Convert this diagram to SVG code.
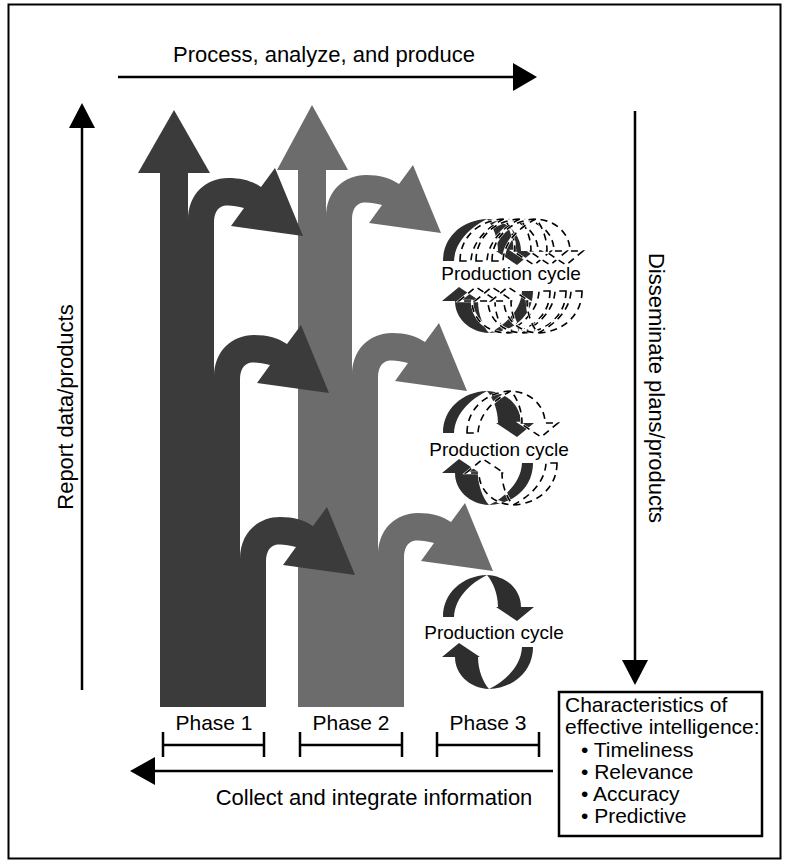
<svg xmlns="http://www.w3.org/2000/svg" xmlns:xlink="http://www.w3.org/1999/xlink" width="787" height="865" viewBox="0 0 787 865">
  <style>
    .lbl { font-family: "Liberation Sans", Arial, sans-serif; fill: #000; }
    .big { font-size: 22px; }
    .mid { font-size: 21px; }
    .cyc { font-size: 19px; }
    .line { stroke: #000; stroke-width: 2.5; fill: none; }
    .head { fill: #000; }
    .dark { fill: #3b3b3b; }
    .gray { fill: #6c6c6c; }
    .loop { fill: #2e2e2e; }
    .halo { fill: none; stroke: #fff; stroke-width: 2.6; }
    .dash { fill: none; stroke: #000; stroke-width: 1.6; stroke-dasharray: 7 5; }
  </style>
  <defs>
    <!-- curved branch arrow leaving a column, local origin = left edge / top of curve -->
    <path id="hook" d="M0,60 L0,42 C0,16 18,0 40,0 C54,0 64,3 73,9 L87,-10 L115,58 L43,48 L56,30 C48,28 41,27 35,28 C29,30 26,36 26,44 L26,60 Z"/>
    <!-- one half of a production-cycle loop, centred on the loop -->
    <path id="loopHalf" d="M-45,-15 C-45,-39 -26,-56 -1,-57 C19,-56 33,-42 33,-25 L46,-25 L29,-11 L8,-25 L10,-25 C10,-38 5,-50 -1,-57 C-15,-50 -33,-36 -34,-15 Z"/>
    <g id="loop">
      <use xlink:href="#loopHalf"/>
      <use xlink:href="#loopHalf" transform="rotate(180)"/>
    </g>
    <g id="ghost">
      <use xlink:href="#loopHalf" class="halo"/>
      <use xlink:href="#loopHalf" class="dash"/>
      <use xlink:href="#loopHalf" class="halo" transform="rotate(180)"/>
      <use xlink:href="#loopHalf" class="dash" transform="rotate(180)"/>
    </g>
  </defs>

  <rect x="8.5" y="4.5" width="772" height="854" fill="#fff" stroke="#000" stroke-width="2"/>

  <!-- phase 2 column -->
  <g id="phase2-column" class="gray">
    <path d="M298,170 L326,170 L326,227 L352,227 L352,383 L378,383 L378,563 L404,563 L404,707 L298,707 Z"/>
    <polygon points="277,170 312,105 348,170"/>
    <use xlink:href="#hook" x="326" y="175"/>
    <use xlink:href="#hook" x="352" y="333"/>
    <use xlink:href="#hook" x="378" y="513"/>
  </g>

  <!-- phase 1 column -->
  <g id="phase1-column" class="dark">
    <path d="M160,173 L188,173 L188,230 L214,230 L214,385 L240,385 L240,567 L266,567 L266,707 L160,707 Z"/>
    <polygon points="138,173 174,110 210,173"/>
    <use xlink:href="#hook" x="188" y="178"/>
    <use xlink:href="#hook" x="214" y="335"/>
    <use xlink:href="#hook" x="240" y="517"/>
  </g>

  <!-- production cycles -->
  <g id="cycle1">
    <use xlink:href="#loop" class="loop" transform="translate(488,276)"/>
    <use xlink:href="#ghost" transform="translate(505,276)"/>
    <use xlink:href="#ghost" transform="translate(521,276)"/>
    <use xlink:href="#ghost" transform="translate(537,276)"/>
    <text class="lbl cyc" x="511" y="280" text-anchor="middle">Production cycle</text>
  </g>
  <g id="cycle2">
    <use xlink:href="#loop" class="loop" transform="translate(488,448)"/>
    <use xlink:href="#ghost" transform="translate(512,448)"/>
    <text class="lbl cyc" x="499" y="456" text-anchor="middle">Production cycle</text>
  </g>
  <g id="cycle3">
    <use xlink:href="#loop" class="loop" transform="translate(488,632)"/>
    <text class="lbl cyc" x="494" y="639" text-anchor="middle">Production cycle</text>
  </g>

  <!-- flow arrows around the frame -->
  <g id="connectors">
    <line class="line" x1="118" y1="77" x2="515" y2="77"/>
    <polygon class="head" points="513,63 537,77 513,91"/>
    <line class="line" x1="82" y1="690" x2="82" y2="126"/>
    <polygon class="head" points="69,128 82,103 95,128"/>
    <line class="line" x1="635" y1="111" x2="635" y2="662"/>
    <polygon class="head" points="622,660 635,685 648,660"/>
    <line class="line" x1="553" y1="771" x2="153" y2="771"/>
    <polygon class="head" points="155,757 130,771 155,785"/>
  </g>

  <!-- flow labels -->
  <text class="lbl big" x="324" y="62" text-anchor="middle">Process, analyze, and produce</text>
  <text class="lbl big" transform="translate(73,407) rotate(-90)" text-anchor="middle">Report data/products</text>
  <text class="lbl big" transform="translate(649,388) rotate(90)" text-anchor="middle">Disseminate plans/products</text>
  <text class="lbl big" x="374" y="805" text-anchor="middle">Collect and integrate information</text>

  <!-- phase spans -->
  <g id="phase-labels">
    <text class="lbl mid" x="214" y="730" text-anchor="middle">Phase 1</text>
    <text class="lbl mid" x="351" y="730" text-anchor="middle">Phase 2</text>
    <text class="lbl mid" x="488" y="730" text-anchor="middle">Phase 3</text>
    <path class="line" d="M163,732 V757 M163,745 H264 M264,732 V757"/>
    <path class="line" d="M300,732 V757 M300,745 H402 M402,732 V757"/>
    <path class="line" d="M437,732 V757 M437,745 H539 M539,732 V757"/>
  </g>

  <!-- characteristics box -->
  <g id="characteristics">
    <rect x="559" y="692" width="203" height="144" fill="#fff" stroke="#000" stroke-width="2.5"/>
    <text class="lbl mid" x="565" y="712">Characteristics of</text>
    <text class="lbl mid" x="565" y="734">effective intelligence:</text>
    <text class="lbl mid" x="581" y="757">• Timeliness</text>
    <text class="lbl mid" x="581" y="779">• Relevance</text>
    <text class="lbl mid" x="581" y="801">• Accuracy</text>
    <text class="lbl mid" x="581" y="823">• Predictive</text>
  </g>
</svg>
